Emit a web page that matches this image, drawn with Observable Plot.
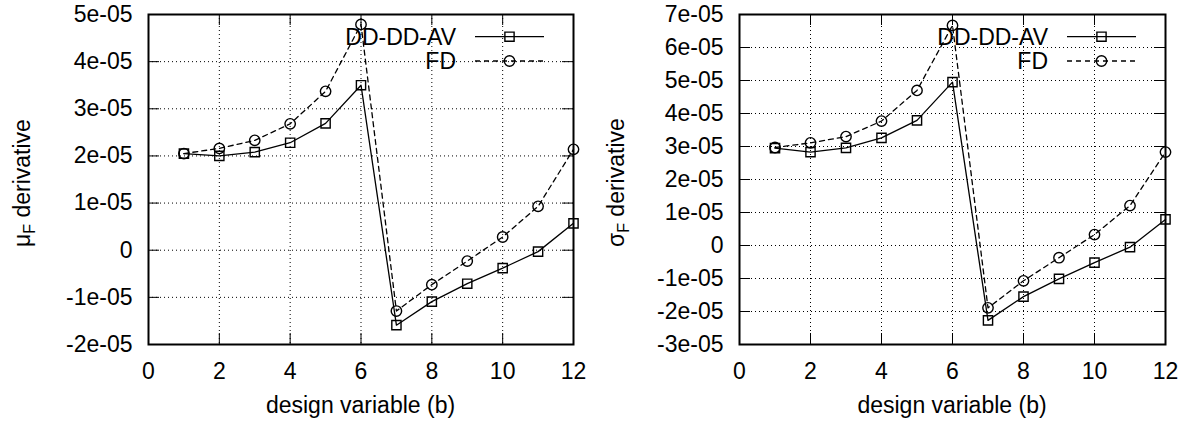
<!DOCTYPE html>
<html><head><meta charset="utf-8">
<script src="https://cdn.jsdelivr.net/npm/d3@7"></script>
<script src="https://cdn.jsdelivr.net/npm/@observablehq/plot@0.6"></script>
<style>
body{margin:0;background:#fff;}
#wrap{display:flex;width:1188px;height:421px;}
#wrap svg{display:block;flex:none}
</style></head><body><div id="wrap"></div>
<script>
// design variable index
const xs = [1, 2, 3, 4, 5, 6, 7, 8, 9, 10, 11, 12];
// mu_F derivative
const muDD = [2.05e-5, 2.00e-5, 2.08e-5, 2.28e-5, 2.69e-5, 3.50e-5, -1.59e-5, -1.09e-5, -0.71e-5, -0.38e-5, -0.03e-5, 0.57e-5];
const muFD = [2.05e-5, 2.16e-5, 2.33e-5, 2.68e-5, 3.37e-5, 4.79e-5, -1.29e-5, -0.73e-5, -0.23e-5, 0.28e-5, 0.93e-5, 2.14e-5];
// sigma_F derivative
const sigDD = [2.95e-5, 2.83e-5, 2.96e-5, 3.26e-5, 3.79e-5, 4.95e-5, -2.27e-5, -1.55e-5, -1.01e-5, -0.52e-5, -0.05e-5, 0.79e-5];
const sigFD = [2.97e-5, 3.11e-5, 3.30e-5, 3.77e-5, 4.70e-5, 6.67e-5, -1.89e-5, -1.07e-5, -0.37e-5, 0.33e-5, 1.21e-5, 2.83e-5];
// ticks
const xTicks = [0, 2, 4, 6, 8, 10, 12];
const muTicks = [-2e-5, -1e-5, 0, 1e-5, 2e-5, 3e-5, 4e-5, 5e-5];
const sigTicks = [-3e-5, -2e-5, -1e-5, 0, 1e-5, 2e-5, 3e-5, 4e-5, 5e-5, 6e-5, 7e-5];
const seriesNames = ["DD-DD-AV", "FD"];
const xLabel = "design variable (b)";
const muLabel = ["μ", "F", " derivative"];
const sigLabel = ["σ", "F", " derivative"];

const FONT = "'Liberation Sans', Arial, Helvetica, sans-serif";
const FS = 23;
function fmt(d) {
  if (d === 0) return "0";
  return d.toExponential(0).replace(/e([+-])(\d)$/, "e$10$2");
}

function panel(cfg) {
  const W = 594, H = 421, mt = 14, mb = 77;
  const ml = cfg.ml, mr = cfg.mr;
  const ph = H - mt - mb, pw = W - ml - mr;
  const tl = 11;
  const dd = xs.map((x, i) => ({x, y: cfg.dd[i]}));
  const fd = xs.map((x, i) => ({x, y: cfg.fd[i]}));
  const grid = {stroke: "#000", strokeOpacity: 1, strokeWidth: 1, strokeDasharray: "1,3"};
  const tick = {stroke: "#000", strokeWidth: 1};
  const svg = Plot.plot({
    width: W, height: H,
    marginLeft: ml, marginRight: mr, marginTop: mt, marginBottom: mb,
    style: {fontFamily: FONT, fontSize: FS + "px", color: "#000", background: "#fff", overflow: "visible"},
    x: {domain: [0, 12]},
    y: {domain: [cfg.yTicks[0], cfg.yTicks[cfg.yTicks.length - 1]]},
    marks: [
      Plot.gridX(xTicks, grid),
      Plot.gridY(cfg.yTicks, grid),
      Plot.tickX(xTicks, {x: d => d, insetTop: ph - tl, ...tick}),
      Plot.tickX(xTicks, {x: d => d, insetBottom: ph - tl, ...tick}),
      Plot.tickY(cfg.yTicks, {y: d => d, insetRight: pw - tl, ...tick}),
      Plot.tickY(cfg.yTicks, {y: d => d, insetLeft: pw - tl, ...tick}),
      Plot.axisX(xTicks, {tickSize: 0, tickPadding: 18, tickFormat: d => String(d), label: null, fontSize: FS}),
      Plot.axisY(cfg.yTicks, {tickSize: 0, tickPadding: 16, tickFormat: fmt, label: null, fontSize: FS}),
      Plot.frame({stroke: "#000", strokeWidth: 2}),
      Plot.line(dd, {x: "x", y: "y", stroke: "#000", strokeWidth: 1.3}),
      Plot.line(fd, {x: "x", y: "y", stroke: "#000", strokeWidth: 1.3, strokeDasharray: "5,4"}),
      Plot.dot(dd, {x: "x", y: "y", symbol: "square", r: 5.2, stroke: "#000", fill: "none", strokeWidth: 1.4}),
      Plot.dot(fd, {x: "x", y: "y", symbol: "circle", r: 5.2, stroke: "#000", fill: "none", strokeWidth: 1.4})
    ]
  });
  const s = d3.select(svg);
  const g = s.append("g").attr("font-family", FONT).attr("font-size", FS).attr("fill", "#000");
  g.append("text").attr("x", ml + pw / 2).attr("y", 412.5).attr("text-anchor", "middle").text(xLabel);
  const yl = g.append("text").attr("transform", `translate(29.5,${mt + ph / 2 + 68}) rotate(-90)`).attr("text-anchor", "start");
  yl.append("tspan").text(cfg.label[0]);
  yl.append("tspan").attr("font-size", 16).attr("dy", 5).text(cfg.label[1]);
  yl.append("tspan").attr("dy", -5).text(cfg.label[2]);
  // legend
  const right = W - mr;
  const items = [
    {name: seriesNames[0], y: 36.7, dash: null, type: d3.symbolSquare, size: 85},
    {name: seriesNames[1], y: 61, dash: "5,4", type: d3.symbolCircle, size: 85}
  ];
  items.forEach(it => {
    g.append("text").attr("x", right - 117).attr("y", it.y).attr("dy", "0.36em").attr("text-anchor", "end").text(it.name);
    g.append("line").attr("x1", right - 98).attr("x2", right - 29).attr("y1", it.y).attr("y2", it.y)
      .attr("stroke", "#000").attr("stroke-width", 1.3).attr("stroke-dasharray", it.dash);
    g.append("path").attr("d", d3.symbol(it.type, it.size)()).attr("transform", `translate(${right - 63.5},${it.y})`)
      .attr("fill", "none").attr("stroke", "#000").attr("stroke-width", 1.4);
  });
  return svg;
}

const wrap = document.getElementById("wrap");
wrap.appendChild(panel({dd: muDD, fd: muFD, yTicks: muTicks, label: muLabel, ml: 148, mr: 21}));
wrap.appendChild(panel({dd: sigDD, fd: sigFD, yTicks: sigTicks, label: sigLabel, ml: 145, mr: 23}));
</script></body></html>
